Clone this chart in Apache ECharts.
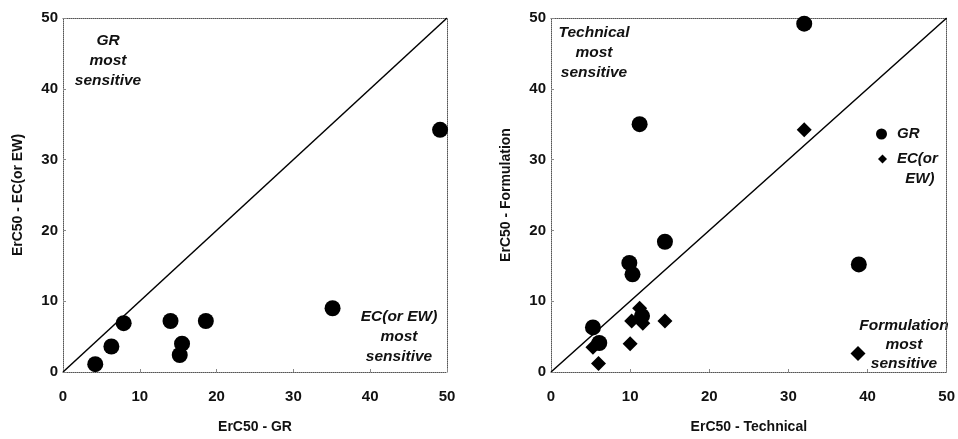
<!DOCTYPE html>
<html>
<head>
<meta charset="utf-8">
<script src="https://cdn.jsdelivr.net/npm/echarts@6/dist/echarts.min.js"></script>
<style>
html, body { margin: 0; padding: 0; background: #fff; }
#main { width: 958px; height: 439px; }
</style>
</head>
<body>
<div id="main"></div>
<script>
// data
var axisTicks = [0, 10, 20, 30, 40, 50];
var diagonal = [[0, 0], [50, 50]];
// left: ErC50 GR (x) vs ErC50 EC (or EW) (y)
var leftGR = [4.2, 6.3, 7.9, 14.0, 18.6, 15.5, 15.2, 35.1, 49.1];
var leftEC = [1.1, 3.6, 6.9, 7.2, 7.2, 4.0, 2.4, 9.0, 34.2];
// right: technical (x) vs formulation (y)
var grTech = [32.0, 11.2, 14.4, 9.9, 10.3, 38.9, 5.3, 6.1, 11.5];
var grForm = [49.2, 35.0, 18.4, 15.4, 13.8, 15.2, 6.3, 4.1, 7.9];
var ecTech = [32.0, 11.2, 10.2, 11.6, 14.4, 10.0, 5.3, 6.0, 38.8];
var ecForm = [34.2, 9.0, 7.2, 6.9, 7.2, 4.0, 3.5, 1.2, 2.6];

function pairs(xs, ys) {
    var out = [];
    for (var i = 0; i < xs.length; i++) out.push([xs[i], ys[i]]);
    return out;
}

var chart = echarts.init(document.getElementById('main'));
var font = 'Liberation Sans, Arial, sans-serif';
var border = { show: true, onZero: false, lineStyle: { color: '#555', type: 'dotted', width: 1 } };
var tickFont = { fontFamily: font, fontWeight: 'bold', fontSize: 15, color: '#111' };

function mainX(gi, name) {
    return {
        gridIndex: gi, type: 'value', min: 0, max: 50, interval: 10,
        name: name, nameLocation: 'middle', nameGap: 48,
        nameTextStyle: { fontFamily: font, fontWeight: 'bold', fontSize: 14, color: '#111' },
        axisLine: border,
        axisTick: { show: true, inside: true, length: 3, lineStyle: { color: '#888' } },
        axisLabel: Object.assign({ margin: 17 }, tickFont),
        splitLine: { show: false }
    };
}
function mainY(gi, name) {
    return {
        gridIndex: gi, type: 'value', min: 0, max: 50, interval: 10,
        name: name, nameLocation: 'middle', nameGap: 38,
        nameTextStyle: { fontFamily: font, fontWeight: 'bold', fontSize: 14, color: '#111' },
        axisLine: border,
        axisTick: { show: true, inside: true, length: 3, lineStyle: { color: '#888' } },
        axisLabel: Object.assign({ margin: 5 }, tickFont),
        splitLine: { show: false }
    };
}
function edge(gi, pos) {
    return {
        gridIndex: gi, type: 'value', min: 0, max: 50, position: pos,
        axisLine: border, axisTick: { show: false }, axisLabel: { show: false }, splitLine: { show: false }
    };
}

var lineStyle = { color: '#000', width: 1.5 };
var legendText = { fontFamily: font, fontWeight: 'bold', fontStyle: 'italic', fontSize: 15, color: '#111', lineHeight: 20, padding: [0, 0, 0, 5] };
var noteFont = 'italic bold 15.5px ' + font;

var option = {
    animation: false,
    backgroundColor: '#fff',
    grid: [
        { left: 63, top: 18, width: 384, height: 360 },
        { left: 551, top: 18, width: 399, height: 360 }
    ],
    xAxis: [mainX(0, 'ErC50 - GR'), mainX(1, 'ErC50 - Technical'), edge(0, 'top'), edge(1, 'top')],
    yAxis: [mainY(0, 'ErC50 - EC(or EW)'), mainY(1, 'ErC50 - Formulation'), edge(0, 'right'), edge(1, 'right')],
    legend: [
        {
            data: [{ name: 'GR', icon: 'circle' }],
            left: 871, top: 119, itemWidth: 11, itemHeight: 11, itemGap: 0,
            textStyle: legendText
        },
        {
            data: [{ name: 'EC(or EW)', icon: 'diamond' }],
            left: 873, top: 124, itemWidth: 9, itemHeight: 9, itemGap: 0,
            // empty first line so "EC(or" sits level with the icon
            formatter: function (n) { return ' \nEC(or\n  EW)'; },
            textStyle: legendText
        }
    ],
    graphic: [
        { type: 'text', x: 108, y: 61, style: { text: 'GR\nmost\nsensitive', align: 'center', verticalAlign: 'middle', lineHeight: 20,
            font: noteFont, fill: '#111' } },
        { type: 'text', x: 399, y: 337, style: { text: 'EC(or EW)\nmost\nsensitive', align: 'center', verticalAlign: 'middle', lineHeight: 20,
            font: noteFont, fill: '#111' } },
        { type: 'text', x: 594, y: 53, style: { text: 'Technical\nmost\nsensitive', align: 'center', verticalAlign: 'middle', lineHeight: 20,
            font: noteFont, fill: '#111' } },
        { type: 'text', x: 904, y: 345, style: { text: 'Formulation\nmost\nsensitive', align: 'center', verticalAlign: 'middle', lineHeight: 19,
            font: noteFont, fill: '#111' } }
    ],
    series: [
        { type: 'line', xAxisIndex: 0, yAxisIndex: 0, data: diagonal, symbol: 'none', lineStyle: lineStyle, silent: true },
        { type: 'line', xAxisIndex: 1, yAxisIndex: 1, data: diagonal, symbol: 'none', lineStyle: lineStyle, silent: true },
        { type: 'scatter', name: 'left', xAxisIndex: 0, yAxisIndex: 0, data: pairs(leftGR, leftEC),
            symbol: 'circle', symbolSize: 16, itemStyle: { color: '#000', opacity: 1 } },
        { type: 'scatter', name: 'EC(or EW)', xAxisIndex: 1, yAxisIndex: 1, data: pairs(ecTech, ecForm),
            symbol: 'diamond', symbolSize: 15, itemStyle: { color: '#000', opacity: 1 } },
        { type: 'scatter', name: 'GR', xAxisIndex: 1, yAxisIndex: 1, data: pairs(grTech, grForm),
            symbol: 'circle', symbolSize: 16, itemStyle: { color: '#000', opacity: 1 } }
    ]
};
chart.setOption(option);
</script>
</body>
</html>
